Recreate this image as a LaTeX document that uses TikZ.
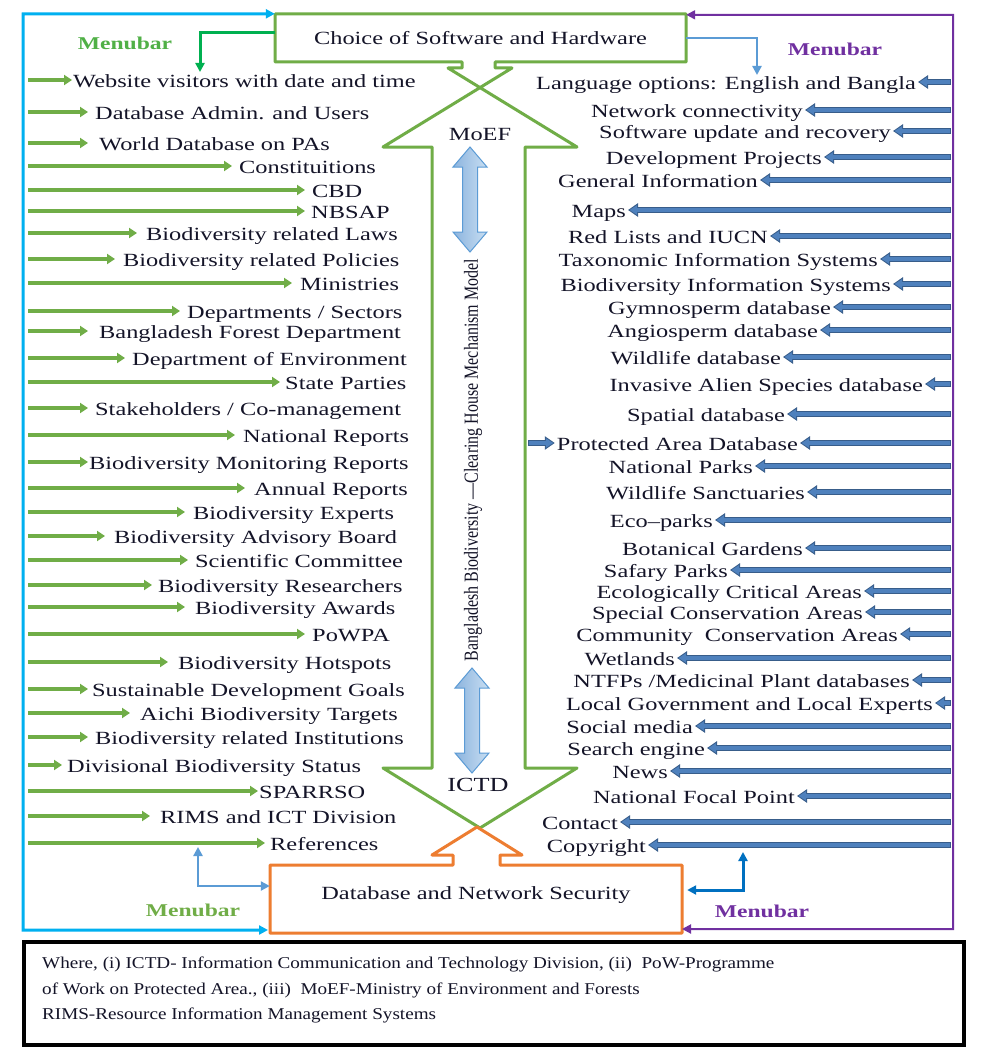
\documentclass[tikz,border=0pt]{standalone}
\usepackage{fontspec}
\setmainfont{Liberation Serif}
\newfontfamily\mf[FakeStretch=1.31]{Liberation Serif}
\newfontfamily\vf[FakeStretch=0.8]{Liberation Serif}
\newfontfamily\lf[FakeStretch=1.16]{Liberation Serif}
\usetikzlibrary{arrows.meta}
\definecolor{gline}{RGB}{112,173,71}
\definecolor{gcorner}{RGB}{0,176,80}
\definecolor{cyanl}{RGB}{0,176,240}
\definecolor{purp}{RGB}{112,48,160}
\definecolor{orng}{RGB}{237,125,49}
\definecolor{lblue}{RGB}{91,155,213}
\definecolor{dblue}{RGB}{0,112,192}
\definecolor{bout}{RGB}{56,93,138}
\definecolor{bfill}{RGB}{79,129,189}
\definecolor{dac1}{RGB}{140,180,222}
\definecolor{dac2}{RGB}{200,222,242}
\definecolor{menug}{RGB}{80,176,70}
\definecolor{txt}{RGB}{20,20,40}
\begin{document}
\begin{tikzpicture}[x=1pt,y=-1pt,
  lt/.style={font=\mf\fontsize{18.6}{20}\selectfont, text=txt, text height=18pt, text depth=4pt, inner ysep=0pt},
  mb/.style={font=\mf\bfseries\fontsize{18}{20}\selectfont, inner sep=0pt},
  garrow/.style={draw=gline, line width=4pt, -{Triangle[length=8pt,width=10pt]}},
  barrowo/.style={draw=bout, line width=6pt, -{Triangle[length=10pt,width=13pt]}},
  barrowi/.style={draw=bfill, line width=3.6pt, shorten >=1.5pt, shorten <=0.8pt, -{Triangle[length=7.5pt,width=9pt]}},
  tipT/.style={-{Triangle[length=9pt,width=9pt]}},
  tipTT/.style={{Triangle[length=9pt,width=9pt]}-{Triangle[length=9pt,width=9pt]}}
]
\useasboundingbox (0,0) rectangle (983,1049);
\fill[white] (0,0) rectangle (983,1049);

% main boxes (text nodes)
\node[lt, minimum width=411pt, minimum height=48pt, inner sep=0pt] (top) at (480.5,38) {Choice of Software and Hardware};
\node[lt, minimum width=412pt, minimum height=68pt, inner sep=0pt, text depth=17pt] (bot) at (476,899) {Database and Network Security};

% green outline: top box + double block arrow
\draw[gline, line width=3pt, line join=round]
  (275,14) -- (686,14) -- (686,62) -- (495,62) -- (495,68) -- (512,68) -- (383,147)
  -- (432,147) -- (432,768) -- (383,768) -- (480,828) -- (577,768) -- (525,768)
  -- (525,147) -- (577,147) -- (448,68) -- (462,68) -- (462,62) -- (275,62) -- cycle;

% orange bottom box with up arrow head
\draw[orng, line width=3pt, line join=round]
  (477,827) -- (432,855) -- (453,855) -- (453,865) -- (270,865) -- (270,933)
  -- (682,933) -- (682,865) -- (500,865) -- (500,855) -- (522,855) -- cycle;

% centre labels
\node[lt] (moef) at (480,133) {MoEF};
\node[lt, font=\mf\fontsize{20}{22}\selectfont] (ictd) at (478,784) {ICTD};
\node[font=\vf\fontsize{20}{22}\selectfont, text=txt, rotate=90, inner sep=0pt] (vt) at (473,460)
  {Bangladesh Biodiversity —Clearing House Mechanism Model};

% central double arrows
\path[draw=lblue, line width=1pt, left color=dac1, right color=dac2]
  (470,147) -- (487,167) -- (477.5,167) -- (477.5,232) -- (487,232) -- (470,252)
  -- (453,232) -- (462.5,232) -- (462.5,167) -- (453,167) -- cycle;
\path[draw=lblue, line width=1pt, left color=dac1, right color=dac2]
  (472,668) -- (489,688) -- (479.5,688) -- (479.5,753) -- (489,753) -- (472,773)
  -- (455,753) -- (464.5,753) -- (464.5,688) -- (455,688) -- cycle;

% frame lines
\coordinate (cTL) at (23,14);
\coordinate (cBL) at (23,930);
\coordinate (cBR) at (268,930);
\draw[cyanl, line width=3pt, tipTT] (top.north west) -- (cTL) -- (cBL) -- (cBR);
\coordinate (pTR) at (953,15);
\coordinate (pBR) at (953,929);
\coordinate (pBL) at (682,929);
\draw[purp, line width=2pt, tipTT] ([yshift=-1pt]top.north east) -- (pTR) -- (pBR) -- (pBL);

% small connectors
\coordinate (gB) at (200,72);
\draw[gcorner, line width=3pt, tipT] ([yshift=5pt]top.west) -| (gB);
\coordinate (bTR) at (757,75);
\draw[lblue, line width=2.5pt, tipT] (top.east) -| (bTR);
\coordinate (bLA) at (198,847);
\draw[lblue, line width=2.5pt, tipTT] (bLA) |- ([yshift=13pt]bot.west);
\coordinate (bBR) at (743,852);
\draw[dblue, line width=3pt, tipTT] ([xshift=5pt,yshift=9pt]bot.east) -| (bBR);

% Menubar labels
\node[mb, text=menug] (mb1) at (125,43) {Menubar};
\node[mb, text=purp] (mb2) at (835,49) {Menubar};
\node[mb, text=gline] (mb3) at (193,910) {Menubar};
\node[mb, text=purp] (mb4) at (762,911) {Menubar};

% left items
\foreach \y/\tp/\tl/\t [count=\i] in {
 80/72/73/{Website visitors with date and time},
 112/88/95/{Database Admin. and Users},
 143/88/99/{World Database on PAs},
 166/232/239/{Constituitions},
 190/305/312/{CBD},
 211/305/311/{NBSAP},
 233/137/146/{Biodiversity related Laws},
 259/115/123/{Biodiversity related Policies},
 283/292/300/{Ministries},
 311/180/187/{Departments / Sectors},
 331/88/99/{Bangladesh Forest Department},
 358/125/132/{Department of Environment},
 382/280/285/{State Parties},
 408/88/95/{Stakeholders / Co-management},
 435/235/243/{National Reports},
 462/88/89/{Biodiversity Monitoring Reports},
 488/245/254/{Annual Reports},
 512/185/193/{Biodiversity Experts},
 536/105/114/{Biodiversity Advisory Board},
 560/188/195/{Scientific Committee},
 585/152/158/{Biodiversity Researchers},
 607/185/195/{Biodiversity Awards},
 634/305/312/{PoWPA},
 662/168/178/{Biodiversity Hotspots},
 689/88/92/{Sustainable Development Goals},
 713/130/140/{Aichi Biodiversity Targets},
 737/88/95/{Biodiversity related Institutions},
 765/62/67/{Divisional Biodiversity Status},
 791/258/259/{SPARRSO},
 816/150/160/{RIMS and ICT Division},
 843/265/270/{References}} {
  \pgfmathsetmacro\sep{\tl-\tp}
  \coordinate (ls\i) at (28,\y);
  \node[lt, anchor=west, inner xsep=\sep pt] (L\i) at (\tp,\y) {\t};
  \draw[garrow] (ls\i) -- (L\i.west);
}

% right items
\foreach \y/\tp/\t [count=\i] in {
 82/918/{Language options: English and Bangla},
 110/805/{Network connectivity},
 131/893/{Software update and recovery},
 157/824/{Development Projects},
 180/760/{General Information},
 210/628/{Maps},
 236/770/{Red Lists and IUCN},
 259/880/{Taxonomic Information Systems},
 284/893/{Biodiversity Information Systems},
 307/833/{Gymnosperm database},
 330/820/{Angiosperm database},
 357/783/{Wildlife database},
 384/925/{Invasive Alien Species database},
 414/787/{Spatial database},
 443/800/{Protected Area Database},
 466/755/{National Parks},
 492/807/{Wildlife Sanctuaries},
 520/715/{Eco–parks},
 548/805/{Botanical Gardens},
 570/730/{Safary Parks},
 591/864/{Ecologically Critical Areas},
 612/865/{Special Conservation Areas},
 634/900/{Community\ \ Conservation Areas},
 658/677/{Wetlands},
 680/912/{NTFPs /Medicinal Plant databases},
 703/935/{Local Government and Local Experts},
 726/695/{Social media},
 748/707/{Search engine},
 771/670/{News},
 796/797/{National Focal Point},
 822/620/{Contact},
 845/648/{Copyright}} {
  \coordinate (rs\i) at (951,\y);
  \node[lt, anchor=east, inner xsep=2pt] (R\i) at (\tp,\y) {\t};
  \draw[barrowo] (rs\i) -- (R\i.east);
  \draw[barrowi] (rs\i) -- (R\i.east);
}
% small arrow into Protected Area Database
\coordinate (pa) at (528,443);
\draw[barrowo] (pa) -- (R15.west);
\draw[barrowi, shorten <=0.8pt] (pa) -- (R15.west);

% legend
\node[draw=black, line width=3.5pt, minimum width=940pt, minimum height=103pt, anchor=north west, inner sep=0pt] (leg) at (22,940) {};
\node[anchor=north west, align=left, inner sep=0pt, text=txt, font=\lf\fontsize{16.5}{25.5}\selectfont] (legt) at (42,957)
 {Where, (i) ICTD- Information Communication and Technology Division, (ii)\ \ PoW-Programme\\
  of Work on Protected Area., (iii)\ \ MoEF-Ministry of Environment and Forests\\
  RIMS-Resource Information Management Systems};
\end{tikzpicture}
\end{document}
